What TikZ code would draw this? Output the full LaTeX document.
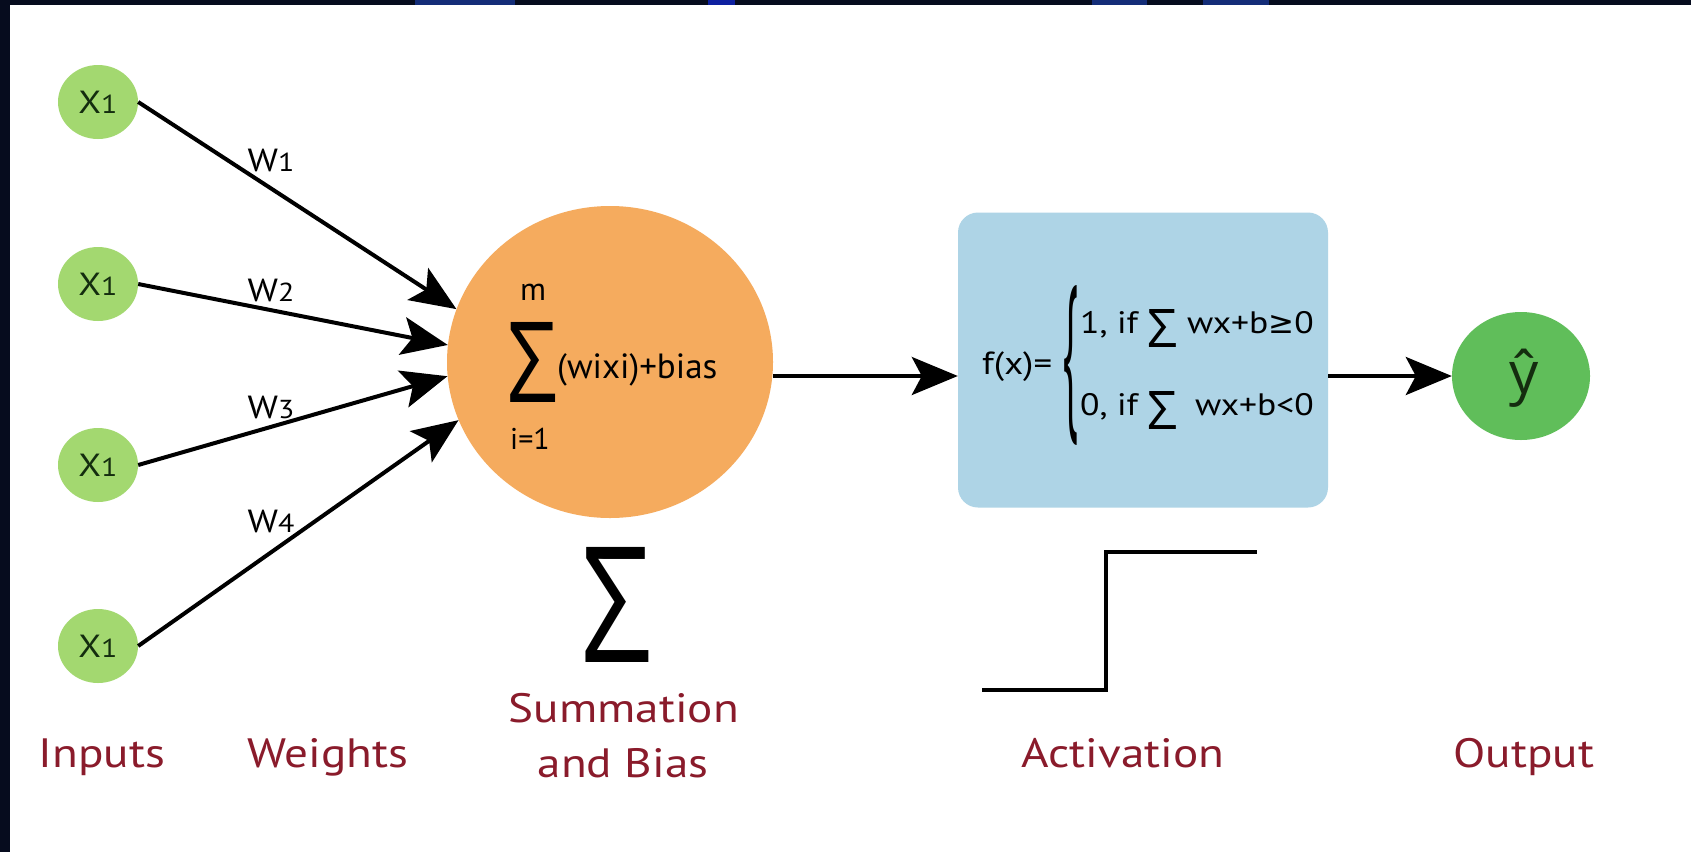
\documentclass[tikz,border=0pt]{standalone}
\usepackage{graphicx}
\usepackage{fontspec}
\setmainfont{PT Sans}
\newfontfamily\lab[FakeStretch=1.15]{PT Sans}
\newfontfamily\sig{Open Sans}
\newfontfamily\sym{DejaVu Sans}
\usetikzlibrary{shapes.geometric,arrows.meta}
\definecolor{ingreen}{RGB}{163,216,112}
\definecolor{sumorange}{RGB}{245,171,94}
\definecolor{actblue}{RGB}{174,212,230}
\definecolor{outgreen}{RGB}{96,190,90}
\definecolor{labred}{RGB}{138,27,43}
\definecolor{navy}{RGB}{6,12,30}
\definecolor{bandblue}{RGB}{20,45,120}
\definecolor{intext}{RGB}{20,45,15}
\begin{document}
\begin{tikzpicture}[x=1pt,y=-1pt,
  inp/.style={ellipse, fill=ingreen, minimum width=80pt, minimum height=74pt, inner sep=0pt, text=intext, font=\lab\fontsize{32}{32}\selectfont},
  arr/.style={line width=4pt, -{Stealth[length=46pt,width=38pt,inset=10pt]}},
  wlab/.style={font=\lab\fontsize{32}{32}\selectfont, anchor=base, inner sep=0pt},
  caption/.style={font=\lab\fontsize{41}{41}\selectfont, text=labred, anchor=base, inner sep=0pt},
  plain/.style={inner sep=0pt},
  rowtext/.style={plain, anchor=base west, font=\lab\fontsize{31}{31}\selectfont},
]
\useasboundingbox (0,0) rectangle (1691,852);
\fill[white] (0,0) rectangle (1691,852);
\fill[navy] (0,0) rectangle (1691,5);
\fill[navy] (0,0) rectangle (10,852);
\fill[bandblue] (415,0) rectangle (515,5);
\fill[bandblue!70!blue] (708,0) rectangle (735,5);
\fill[bandblue] (1092,0) rectangle (1147,5);
\fill[bandblue] (1203,0) rectangle (1269,5);

% inputs
\node[inp] (in1) at (98,102) {X{\fontsize{26}{26}\selectfont 1}};
\node[inp] (in2) at (98,284) {X{\fontsize{26}{26}\selectfont 1}};
\node[inp] (in3) at (98,465) {X{\fontsize{26}{26}\selectfont 1}};
\node[inp] (in4) at (98,646) {X{\fontsize{26}{26}\selectfont 1}};

% summation node
\node[ellipse, fill=sumorange, minimum width=326pt, minimum height=312pt, inner sep=0pt] (sum) at (610,362) {};
\node[plain] (sig1) at (532,362) {\resizebox{50pt}{80pt}{\sig Σ}};
\node[plain, anchor=base, font=\fontsize{32}{32}\selectfont] (mtop) at (533,300) {m};
\node[plain, anchor=base, font=\fontsize{30}{30}\selectfont] (ibot) at (530,449) {i=1};
\node[plain, anchor=base west, font=\fontsize{35}{35}\selectfont] (wsum) at (557,378) {(wixi)+bias};

% activation box
\node[rectangle, rounded corners=20pt, fill=actblue, minimum width=370pt, minimum height=295pt] (box) at (1143,360) {};
\node[plain, anchor=base west, font=\lab\fontsize{32}{32}\selectfont] (fx) at (982,374) {f(x)=};
\node[plain, anchor=east] (brace) at (1079,366) {\resizebox*{15pt}{160pt}{\sig\{}};
\node[rowtext] (row1) at (1080,333)
  {1, if \raisebox{-14pt}{\resizebox{30pt}{38pt}{\sig Σ}} wx+b{\sym ≥}0};
\node[rowtext] (row2) at (1080,415)
  {0, if \raisebox{-14pt}{\resizebox{30pt}{38pt}{\sig Σ}}\hspace{8pt} wx+b<0};

% output
\node[ellipse, fill=outgreen, minimum width=138pt, minimum height=128pt, inner sep=0pt] (out) at (1521,376) {};
\node[plain, font=\sig\fontsize{58}{58}\selectfont, text=intext] (yhat) at (1524,378) {ŷ};

% connectors
\draw[arr] (in1.east) -- (sum.161);
\draw[arr] (in2.east) -- (sum.174);
\draw[arr] (in3.east) -- (sum.185);
\draw[arr] (in4.east) -- (sum.201);
\draw[arr] (sum.east |- out) -- (box.west |- out);
\draw[arr] (box.east |- out) -- (out.west);

% weights
\node[wlab] (w1) at (271,171) {W{\fontsize{26}{26}\selectfont 1}};
\node[wlab] (w2) at (271,301) {W{\fontsize{26}{26}\selectfont 2}};
\node[wlab] (w3) at (271,418) {W{\fontsize{26}{26}\selectfont 3}};
\node[wlab] (w4) at (271,532) {W{\fontsize{26}{26}\selectfont 4}};

% big sigma and step function
\node[plain] (bigsig) at (617,605) {\resizebox{70pt}{115pt}{\sig Σ}};
\coordinate (s0) at (982,690);
\coordinate (s1) at (1106,690);
\coordinate (s2) at (1106,552);
\coordinate (s3) at (1257,552);
\draw[line width=4pt] (s0) -- (s1) -- (s2) -- (s3);

% captions
\node[caption] (cin) at (102,767) {Inputs};
\node[caption] (cw) at (328,767) {Weights};
\node[caption] (cs1) at (624,722) {Summation};
\node[caption] (cs2) at (623,777) {and Bias};
\node[caption] (ca) at (1123,767) {Activation};
\node[caption] (co) at (1524,767) {Output};
\end{tikzpicture}
\end{document}
